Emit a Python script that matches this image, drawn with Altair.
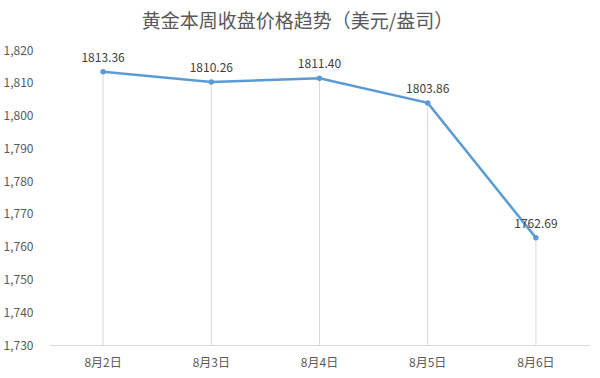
import altair as alt
import pandas as pd

dates = ["8月2日", "8月3日", "8月4日", "8月5日", "8月6日"]
prices = [1813.36, 1810.26, 1811.40, 1803.86, 1762.69]
labels = ["1813.36", "1810.26", "1811.40", "1803.86", "1762.69"]

df = pd.DataFrame({"date": dates, "price": prices, "label": labels, "base": [1730] * 5})

FONT = "Noto Sans CJK SC"
x = alt.X("date:N", sort=dates, title=None,
          scale=alt.Scale(paddingInner=0, paddingOuter=0),
          axis=alt.Axis(labelAngle=0, ticks=False, grid=False, domainColor="#d9d9d9",
                        labelColor="#595959", labelFontSize=12, labelFont=FONT, labelPadding=12))
y = alt.Y("price:Q", title=None,
          scale=alt.Scale(domain=[1730, 1820], nice=False, zero=False),
          axis=alt.Axis(values=list(range(1730, 1821, 10)), format=",d", grid=False, ticks=False,
                        domain=False, labelColor="#595959", labelFontSize=12, labelFont=FONT,
                        labelPadding=16))

base = alt.Chart(df)
drops = base.mark_rule(color="#d9d9d9", strokeWidth=1).encode(x=x, y=y, y2="base:Q")
line = base.mark_line(color="#5b9bd5", strokeWidth=2.5).encode(x=x, y=y)
pts = base.mark_point(filled=True, color="#5b9bd5", size=30, opacity=1).encode(x=x, y=y)
txt = base.mark_text(dy=-14, fontSize=12, color="#404040", font=FONT).encode(x=x, y=y, text="label:N")

chart = alt.layer(drops, line, pts, txt).properties(
    width=541, height=295,
    title=alt.TitleParams("黄金本周收盘价格趋势（美元/盎司）", fontSize=19, font=FONT,
                          fontWeight="normal", color="#595959", anchor="middle", dx=-22, offset=12),
    autosize=alt.AutoSizeParams(type="none"),
    padding={"left": 49, "top": 50, "right": 10, "bottom": 33},
).configure_view(stroke=None)

chart.save("out.html", embed_options={"renderer": "svg", "actions": False})
